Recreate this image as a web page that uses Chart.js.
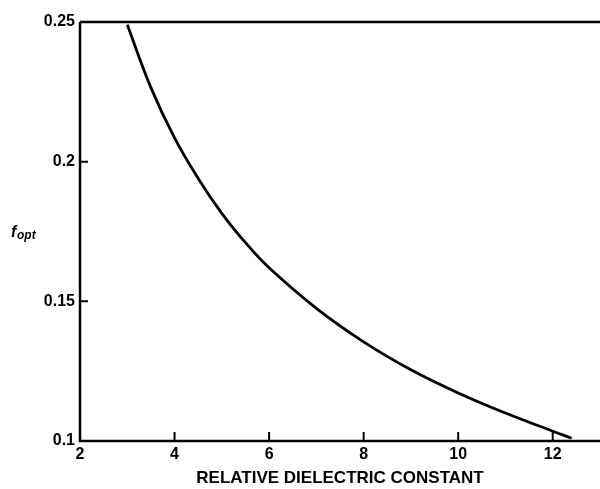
<!DOCTYPE html>
<html>
<head>
<meta charset="utf-8">
<script src="https://cdn.jsdelivr.net/npm/chart.js@4/dist/chart.umd.min.js"></script>
<style>
html,body{margin:0;padding:0;background:#fff;}
#wrap{width:600px;height:489px;}
</style>
</head>
<body>
<div id="wrap"><canvas id="c" width="600" height="489"></canvas></div>
<script>
const dielectric = [3.0, 3.5, 4.0, 4.5, 5.0, 5.5, 6.0, 7.0, 8.0, 9.0, 10.0, 11.0, 12.0, 12.4];
const fOpt = [0.249, 0.2265, 0.2085, 0.1940, 0.1815, 0.1710, 0.1620, 0.1475, 0.1355, 0.1255, 0.1172, 0.1100, 0.1035, 0.1010];
const xTicks = [2, 4, 6, 8, 10, 12];
const yTicks = [0.1, 0.15, 0.2, 0.25];
const yTickLabels = ['0.1', '0.15', '0.2', '0.25'];

const FONT = '"Liberation Sans", Arial, sans-serif';

const frame = {
  id: 'frame',
  afterDraw(chart) {
    const ctx = chart.ctx, a = chart.chartArea;
    const xs = chart.scales.x, ys = chart.scales.y;
    ctx.save();
    ctx.strokeStyle = '#000';
    ctx.lineWidth = 2.5;
    ctx.beginPath();
    ctx.moveTo(a.left, a.top);
    ctx.lineTo(a.right, a.top);
    ctx.moveTo(a.left, a.top);
    ctx.lineTo(a.left, a.bottom);
    ctx.lineTo(a.right, a.bottom);
    ctx.stroke();
    ctx.lineWidth = 2;
    ctx.beginPath();
    xTicks.forEach(v => {
      if (v === xs.min) return;
      const px = xs.getPixelForValue(v);
      ctx.moveTo(px, a.bottom);
      ctx.lineTo(px, a.bottom - 9);
    });
    yTicks.forEach(v => {
      if (v === ys.min || v === ys.max) return;
      const py = ys.getPixelForValue(v);
      ctx.moveTo(a.left, py);
      ctx.lineTo(a.left + 8, py);
    });
    ctx.stroke();
    // y axis label f_opt
    const cy = (a.top + a.bottom) / 2;
    ctx.fillStyle = '#000';
    ctx.textBaseline = 'alphabetic';
    ctx.textAlign = 'left';
    ctx.font = 'italic bold 16px ' + FONT;
    ctx.fillText('f', 11, cy + 5);
    ctx.font = 'italic bold 12px ' + FONT;
    ctx.fillText('opt', 17, cy + 7);
    ctx.restore();
  }
};

new Chart(document.getElementById('c'), {
  type: 'line',
  data: {
    datasets: [{
      data: dielectric.map((x, i) => ({x: x, y: fOpt[i]})),
      borderColor: '#000',
      borderWidth: 2.8,
      pointRadius: 0,
      fill: false,
      tension: 0.4,
      clip: false
    }]
  },
  options: {
    responsive: false,
    animation: false,
    devicePixelRatio: 1,
    layout: {padding: {top: 22, right: 0, left: 0, bottom: 0}},
    plugins: {legend: {display: false}, tooltip: {enabled: false}},
    scales: {
      x: {
        type: 'linear',
        min: 2, max: 13,
        afterFit(s) { s.height = 48; },
        afterBuildTicks(s) { s.ticks = xTicks.map(v => ({value: v})); },
        grid: {display: false, drawTicks: false},
        border: {display: false},
        ticks: {
          color: '#000', padding: 4, maxRotation: 0, autoSkip: false,
          font: {family: FONT, weight: 'bold', size: 16},
          callback: v => String(v)
        },
        title: {
          display: true, text: 'RELATIVE DIELECTRIC CONSTANT', color: '#000',
          font: {family: FONT, weight: 'bold', size: 17},
          padding: {top: 0, bottom: 0}
        }
      },
      y: {
        type: 'linear',
        min: 0.1, max: 0.25,
        afterFit(s) { s.width = 80; },
        afterBuildTicks(s) { s.ticks = yTicks.map(v => ({value: v})); },
        grid: {display: false, drawTicks: false},
        border: {display: false},
        ticks: {
          color: '#000', padding: 5, autoSkip: false,
          font: {family: FONT, weight: 'bold', size: 16},
          callback: (v, i) => yTickLabels[i]
        }
      }
    }
  },
  plugins: [frame]
});
</script>
</body>
</html>
